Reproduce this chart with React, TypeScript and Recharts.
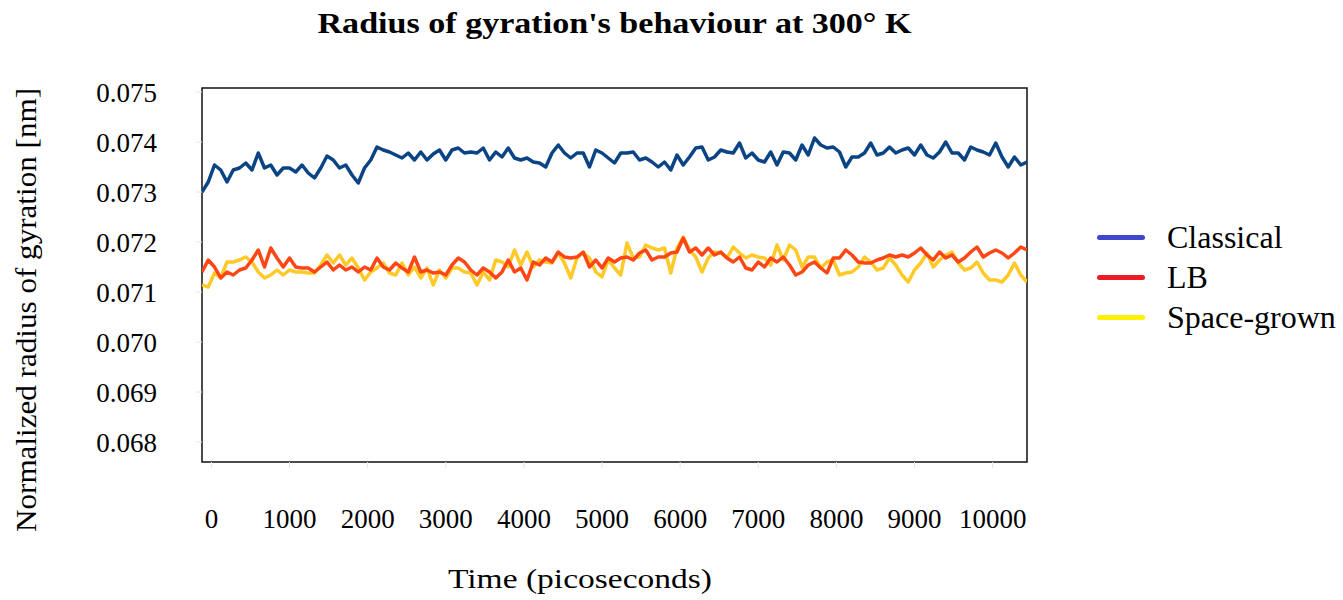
import React from 'react';
import { LineChart, Line, XAxis, YAxis, ReferenceArea, Legend, Label } from 'recharts';

const FONT = '"Liberation Serif", "Times New Roman", serif';

// time axis (picoseconds): samples every 80 ps
const TIME_START = -120;
const TIME_STEP = 80;

const CLASSICAL = [
  0.07300, 0.07320, 0.07354, 0.07344, 0.07320, 0.07344, 0.07348, 0.07358, 0.07344, 0.07378,
  0.07348, 0.07354, 0.07334, 0.07348, 0.07348, 0.07340, 0.07354, 0.07338, 0.07328, 0.07348,
  0.07372, 0.07364, 0.07348, 0.07354, 0.07334, 0.07318, 0.07348, 0.07364, 0.07390, 0.07384,
  0.07380, 0.07374, 0.07368, 0.07378, 0.07364, 0.07380, 0.07364, 0.07376, 0.07384, 0.07364,
  0.07384, 0.07388, 0.07378, 0.07380, 0.07378, 0.07388, 0.07364, 0.07380, 0.07370, 0.07388,
  0.07368, 0.07364, 0.07368, 0.07360, 0.07358, 0.07350, 0.07378, 0.07394, 0.07378, 0.07368,
  0.07378, 0.07378, 0.07350, 0.07384, 0.07378, 0.07368, 0.07358, 0.07378, 0.07378, 0.07380,
  0.07364, 0.07368, 0.07360, 0.07350, 0.07360, 0.07344, 0.07374, 0.07354, 0.07370, 0.07388,
  0.07390, 0.07364, 0.07370, 0.07384, 0.07380, 0.07378, 0.07398, 0.07368, 0.07378, 0.07364,
  0.07360, 0.07380, 0.07354, 0.07380, 0.07378, 0.07364, 0.07394, 0.07374, 0.07408, 0.07394,
  0.07388, 0.07390, 0.07380, 0.07350, 0.07370, 0.07370, 0.07378, 0.07398, 0.07374, 0.07378,
  0.07390, 0.07378, 0.07384, 0.07388, 0.07374, 0.07394, 0.07374, 0.07368, 0.07380, 0.07400,
  0.07378, 0.07378, 0.07364, 0.07390, 0.07384, 0.07380, 0.07374, 0.07398, 0.07370, 0.07350,
  0.07370, 0.07354, 0.07360,
];

const LB = [
  0.07140, 0.07164, 0.07150, 0.07128, 0.07140, 0.07134, 0.07144, 0.07148, 0.07164, 0.07184,
  0.07150, 0.07188, 0.07168, 0.07150, 0.07168, 0.07150, 0.07148, 0.07148, 0.07140, 0.07150,
  0.07160, 0.07144, 0.07154, 0.07144, 0.07150, 0.07140, 0.07150, 0.07144, 0.07168, 0.07150,
  0.07144, 0.07158, 0.07148, 0.07140, 0.07170, 0.07140, 0.07144, 0.07138, 0.07140, 0.07134,
  0.07154, 0.07168, 0.07160, 0.07144, 0.07134, 0.07148, 0.07140, 0.07128, 0.07140, 0.07164,
  0.07140, 0.07148, 0.07124, 0.07160, 0.07154, 0.07168, 0.07160, 0.07180, 0.07170, 0.07168,
  0.07170, 0.07180, 0.07150, 0.07164, 0.07148, 0.07168, 0.07160, 0.07168, 0.07170, 0.07164,
  0.07178, 0.07184, 0.07164, 0.07170, 0.07170, 0.07178, 0.07180, 0.07208, 0.07180, 0.07188,
  0.07174, 0.07188, 0.07174, 0.07180, 0.07168, 0.07160, 0.07170, 0.07148, 0.07144, 0.07160,
  0.07150, 0.07168, 0.07160, 0.07170, 0.07154, 0.07134, 0.07140, 0.07154, 0.07160, 0.07148,
  0.07138, 0.07168, 0.07168, 0.07184, 0.07174, 0.07160, 0.07158, 0.07158, 0.07164, 0.07168,
  0.07174, 0.07170, 0.07174, 0.07170, 0.07178, 0.07188, 0.07174, 0.07164, 0.07180, 0.07168,
  0.07174, 0.07160, 0.07168, 0.07180, 0.07190, 0.07170, 0.07178, 0.07184, 0.07178, 0.07168,
  0.07178, 0.07190, 0.07184,
];

const SPACE_GROWN = [
  0.07114, 0.07110, 0.07138, 0.07128, 0.07160, 0.07160, 0.07164, 0.07170, 0.07160, 0.07140,
  0.07128, 0.07134, 0.07144, 0.07134, 0.07144, 0.07140, 0.07140, 0.07138, 0.07138, 0.07154,
  0.07174, 0.07158, 0.07174, 0.07154, 0.07168, 0.07148, 0.07124, 0.07140, 0.07148, 0.07158,
  0.07138, 0.07134, 0.07158, 0.07134, 0.07150, 0.07128, 0.07148, 0.07114, 0.07144, 0.07128,
  0.07148, 0.07148, 0.07140, 0.07138, 0.07114, 0.07140, 0.07124, 0.07164, 0.07160, 0.07150,
  0.07184, 0.07154, 0.07180, 0.07150, 0.07164, 0.07160, 0.07158, 0.07178, 0.07158, 0.07128,
  0.07168, 0.07178, 0.07168, 0.07140, 0.07130, 0.07164, 0.07148, 0.07134, 0.07198, 0.07168,
  0.07170, 0.07194, 0.07188, 0.07184, 0.07188, 0.07138, 0.07188, 0.07210, 0.07184, 0.07170,
  0.07140, 0.07168, 0.07180, 0.07178, 0.07168, 0.07190, 0.07178, 0.07168, 0.07174, 0.07170,
  0.07168, 0.07154, 0.07194, 0.07164, 0.07194, 0.07184, 0.07150, 0.07170, 0.07170, 0.07148,
  0.07160, 0.07164, 0.07134, 0.07138, 0.07140, 0.07150, 0.07170, 0.07160, 0.07144, 0.07148,
  0.07168, 0.07154, 0.07134, 0.07120, 0.07144, 0.07158, 0.07178, 0.07150, 0.07164, 0.07174,
  0.07180, 0.07158, 0.07144, 0.07148, 0.07160, 0.07138, 0.07124, 0.07124, 0.07120, 0.07134,
  0.07158, 0.07134, 0.07120,
];

const X_TICKS = [0, 1000, 2000, 3000, 4000, 5000, 6000, 7000, 8000, 9000, 10000];
const Y_TICKS = [0.068, 0.069, 0.070, 0.071, 0.072, 0.073, 0.074, 0.075];
const X_DOMAIN: [number, number] = [-120, 10440];
const Y_DOMAIN: [number, number] = [0.0676, 0.07508];

const TITLE = "Radius of gyration's behaviour at 300\u00b0 K";
const X_LABEL = 'Time (picoseconds)';
const Y_LABEL = 'Normalized radius of gyration [nm]';

const SERIES = [
  { key: 'classical', name: 'Classical', line: '#0a4485', legend: '#3f48cc' },
  { key: 'lb', name: 'LB', line: '#ff4614', legend: '#ed1c24' },
  { key: 'space', name: 'Space-grown', line: '#ffc928', legend: '#fff200' },
];

const data = CLASSICAL.map((v, i) => ({
  t: TIME_START + i * TIME_STEP,
  classical: v,
  lb: LB[i],
  space: SPACE_GROWN[i],
}));

const TitleLabel = (props: any) => {
  const vb = props.viewBox || {};
  return (
    <text
      x={vb.x + vb.width / 2}
      y={vb.y - 55}
      textAnchor="middle"
      fontFamily={FONT}
      fontWeight="bold"
      fontSize={29}
      fill="#000"
      textLength={594}
      lengthAdjust="spacingAndGlyphs"
    >
      {TITLE}
    </text>
  );
};

const XLabel = (props: any) => {
  const vb = props.viewBox || {};
  return (
    <text
      x={vb.x + 378}
      y={vb.y + 126}
      textAnchor="middle"
      fontFamily={FONT}
      fontSize={28}
      fill="#000"
      textLength={264}
      lengthAdjust="spacingAndGlyphs"
    >
      {X_LABEL}
    </text>
  );
};

const YLabel = (props: any) => {
  const vb = props.viewBox || {};
  const cx = vb.x + 36;
  const cy = vb.y + 222;
  return (
    <text
      x={cx}
      y={cy}
      transform={`rotate(-90, ${cx}, ${cy})`}
      textAnchor="middle"
      fontFamily={FONT}
      fontSize={30}
      fill="#000"
      textLength={444}
      lengthAdjust="spacingAndGlyphs"
    >
      {Y_LABEL}
    </text>
  );
};

const LegendContent = () => (
  <div style={{ fontFamily: FONT, fontSize: 32, color: '#000' }}>
    {SERIES.map((s) => (
      <div key={s.key} style={{ display: 'flex', alignItems: 'center', height: 40, whiteSpace: 'nowrap' }}>
        <span
          style={{
            display: 'inline-block',
            width: 48,
            height: 5,
            borderRadius: 3,
            background: s.legend,
            marginRight: 22,
          }}
        />
        <span style={{ lineHeight: '40px' }}>{s.name}</span>
      </div>
    ))}
  </div>
);

export default function App() {
  return (
    <div style={{ position: 'absolute', left: 0, top: 0, width: 1343, height: 600, overflow: 'hidden', background: '#fff' }}>
      <LineChart width={1343} height={600} data={data} margin={{ top: 88, right: 76, bottom: 38, left: 0 }}>
        <XAxis
          dataKey="t"
          type="number"
          domain={X_DOMAIN}
          ticks={X_TICKS}
          allowDataOverflow
          height={100}
          axisLine={false}
          tickSize={6}
          tickMargin={41}
          tickLine={{ stroke: '#e4e4e4' }}
          tick={{ fill: '#000', fontSize: 27, fontFamily: FONT }}
          interval={0}
        >
          <Label content={XLabel} />
        </XAxis>
        <YAxis
          type="number"
          domain={Y_DOMAIN}
          ticks={Y_TICKS}
          allowDataOverflow
          width={202}
          axisLine={false}
          tickSize={6}
          tickMargin={39}
          tickLine={{ stroke: '#e4e4e4' }}
          tick={{ fill: '#000', fontSize: 27, fontFamily: FONT }}
          tickFormatter={(v: number) => v.toFixed(3)}
          interval={0}
        >
          <Label content={YLabel} />
        </YAxis>
        <Legend
          layout="vertical"
          align="right"
          verticalAlign="middle"
          width={240}
          wrapperStyle={{ left: 1097, top: 217 }}
          content={LegendContent}
        />
        <Line type="linear" dataKey="classical" name="Classical" stroke={SERIES[0].line} strokeWidth={3.5} dot={false} isAnimationActive={false} strokeLinejoin="round" />
        <Line type="linear" dataKey="space" name="Space-grown" stroke={SERIES[2].line} strokeWidth={3.5} dot={false} isAnimationActive={false} strokeLinejoin="round" />
        <Line type="linear" dataKey="lb" name="LB" stroke={SERIES[1].line} strokeWidth={3.5} dot={false} isAnimationActive={false} strokeLinejoin="round" />
        <ReferenceArea
          x1={X_DOMAIN[0]}
          x2={X_DOMAIN[1]}
          y1={Y_DOMAIN[0]}
          y2={Y_DOMAIN[1]}
          fill="none"
          fillOpacity={0}
          stroke="#111"
          strokeWidth={1.5}
          label={TitleLabel}
        />
      </LineChart>
    </div>
  );
}
